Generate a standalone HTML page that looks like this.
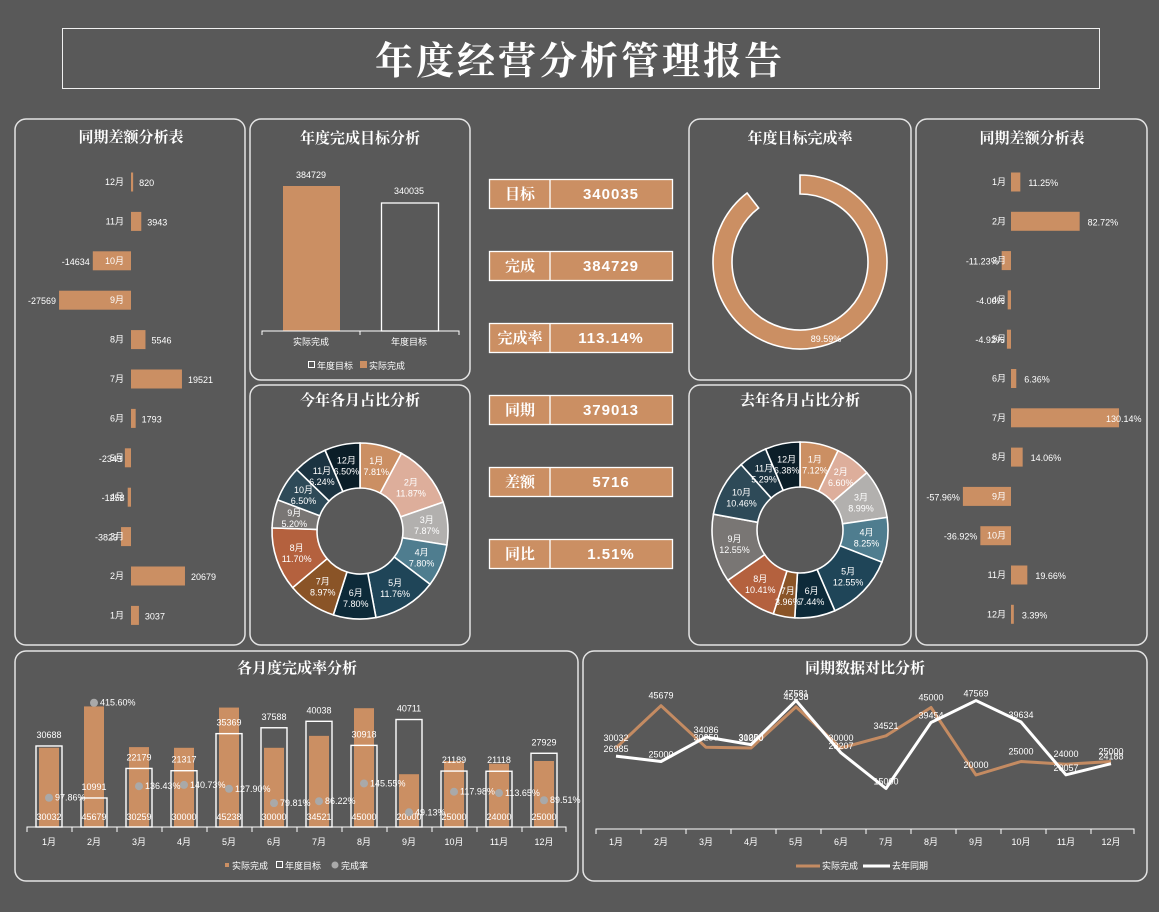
<!DOCTYPE html>
<html><head><meta charset="utf-8">
<style>
html,body{margin:0;padding:0;background:#595959;}
svg{display:block;}
text{font-family:"Liberation Sans","Noto Sans CJK SC",sans-serif;fill:#fff;}
.t{font-family:"Liberation Serif","Noto Serif CJK SC",serif;font-weight:700;}
</style></head>
<body>
<svg id="s" width="1159" height="912" viewBox="0 0 1159 912" xmlns="http://www.w3.org/2000/svg">
<rect width="1159" height="912" fill="#595959"/>
<rect x="62.5" y="28.5" width="1037" height="60" fill="none" stroke="#f0f0f0" stroke-width="1"/>
<text class="t" x="580" y="74" font-size="38" text-anchor="middle" letter-spacing="3">年度经营分析管理报告</text>
<g fill="none" stroke="#e4e4e4" stroke-width="1.5">
<rect x="15" y="119" width="230" height="526" rx="11"/>
<rect x="250" y="119" width="220" height="261" rx="11"/>
<rect x="250" y="385" width="220" height="260" rx="11"/>
<rect x="689" y="119" width="222" height="261" rx="11"/>
<rect x="689" y="385" width="222" height="260" rx="11"/>
<rect x="916" y="119" width="231" height="526" rx="11"/>
<rect x="15" y="651" width="563" height="230" rx="11"/>
<rect x="583" y="651" width="564" height="230" rx="11"/>
</g>
<g class="t" font-size="15" text-anchor="middle">
<text class="t" x="131" y="142">同期差额分析表</text>
<text class="t" x="360" y="143">年度完成目标分析</text>
<text class="t" x="360" y="405">今年各月占比分析</text>
<text class="t" x="800" y="143">年度目标完成率</text>
<text class="t" x="800" y="405">去年各月占比分析</text>
<text class="t" x="1032" y="143">同期差额分析表</text>
<text class="t" x="297" y="673">各月度完成率分析</text>
<text class="t" x="865" y="673">同期数据对比分析</text>
</g>
<g id="dyn"></g>
</svg>
<script>
const NS='http://www.w3.org/2000/svg';
const G=document.getElementById('dyn');
function el(tag,a,txt){const e=document.createElementNS(NS,tag);for(const k in a)e.setAttribute(k,a[k]);if(txt!==undefined)e.textContent=txt;G.appendChild(e);return e;}
const OR='#CB8F63';
// KPI boxes
const kp=[['目标','340035',179],['完成','384729',251],['完成率','113.14%',323],['同期','379013',395],['差额','5716',467],['同比','1.51%',539]];
kp.forEach(k=>{el('rect',{x:489.5,y:k[2]+.5,width:183,height:29,fill:OR,stroke:'#fff','stroke-width':1.3});
el('line',{x1:550,y1:k[2],x2:550,y2:k[2]+30,stroke:'#fff','stroke-width':1.3});
el('text',{x:520,y:k[2]+20,'font-size':15,'text-anchor':'middle',class:'t'},k[0]);
el('text',{x:611,y:k[2]+20,'font-size':15,'font-weight':700,'text-anchor':'middle','letter-spacing':1},k[1]);});
// left bar chart
const L=[[12,820],[11,3943],[10,-14634],[9,-27569],[8,5546],[7,19521],[6,1793],[5,-2343],[4,-1258],[3,-3823],[2,20679],[1,3037]];
L.forEach((d,i)=>{const y=182+i*39.4,w=Math.abs(d[1])*0.00261;const x=d[1]>0?131:131-w;
el('rect',{x:x,y:y-9.5,width:Math.max(w,2),height:19,fill:OR});
el('text',{x:124,y:y+3,'font-size':9,'text-anchor':'end'},d[0]+'月');
if(d[1]>0)el('text',{x:131+w+6,y:y+4,'font-size':9},d[1]);else el('text',{x:131-w-3,y:y+4,'font-size':9,'text-anchor':'end'},d[1]);});
// right bar chart
const R=[11.25,82.72,-11.23,-4.00,-4.92,6.36,130.14,14.06,-57.96,-36.92,19.66,3.39];
R.forEach((v,i)=>{const y=182+i*39.3,w=Math.abs(v)*0.83;const x=v>0?1011:1011-w;
el('rect',{x:x,y:y-9.5,width:Math.max(w,2),height:19,fill:OR});
el('text',{x:1006,y:y+3,'font-size':9,'text-anchor':'end'},(i+1)+'月');
const s=v.toFixed(2)+'%';
if(v>0)el('text',{x:v>100?1106:1011+w+8,y:y+4,'font-size':9},s);else el('text',{x:1011-w-3,y:y+4,'font-size':9,'text-anchor':'end'},s);});
// annual bars
el('rect',{x:283,y:186,width:57,height:145,fill:OR});
el('rect',{x:381.5,y:203,width:57,height:128,fill:'none',stroke:'#fff','stroke-width':1.3});
el('path',{d:'M262 335V331H459V335M360 331V335',stroke:'#fff',fill:'none','stroke-width':1});
el('text',{x:311,y:178,'font-size':9,'text-anchor':'middle'},'384729');
el('text',{x:409,y:194,'font-size':9,'text-anchor':'middle'},'340035');
el('text',{x:311,y:345,'font-size':9,'text-anchor':'middle'},'实际完成');
el('text',{x:409,y:345,'font-size':9,'text-anchor':'middle'},'年度目标');
el('rect',{x:308.5,y:361.5,width:6,height:6,fill:'none',stroke:'#fff'});
el('text',{x:317,y:369,'font-size':9},'年度目标');
el('rect',{x:360,y:361,width:7,height:7,fill:OR});
el('text',{x:369,y:369,'font-size':9},'实际完成');
// donut arcs
function pt(cx,cy,r,a){return [cx+r*Math.sin(a),cy-r*Math.cos(a)];}
function seg(cx,cy,R,r,a0,a1,fill){const la=(a1-a0)>Math.PI?1:0;const p1=pt(cx,cy,R,a0),p2=pt(cx,cy,R,a1),p3=pt(cx,cy,r,a1),p4=pt(cx,cy,r,a0);
el('path',{d:`M${p1}A${R},${R} 0 ${la} 1 ${p2}L${p3}A${r},${r} 0 ${la} 0 ${p4}Z`,fill:fill,stroke:'#fff','stroke-width':1.6});}
seg(800,262,87,68,0,0.8959*2*Math.PI,OR);
el('text',{x:826,y:342,'font-size':9,'text-anchor':'middle'},'89.59%');
const C=['#CB8F63','#DDAE9B','#B2B0AE','#4F7D8F','#1F4558','#0D2A39','#8A5427','#B4613E','#797674','#2E4A58','#1B3341','#0B1E28'];
function pie(cx,cy,vals){let a=0;const tot=vals.reduce((x,y)=>x+y,0);
vals.forEach((v,i)=>{const b=a+v/tot*2*Math.PI;seg(cx,cy,88,43,a,b,C[i]);a=b;});
a=0;vals.forEach((v,i)=>{const b=a+v/tot*2*Math.PI;const m=(a+b)/2;const p=pt(cx,cy,67,m);
el('text',{x:p[0],y:p[1]-2,'font-size':9,'text-anchor':'middle'},(i+1)+'月');
el('text',{x:p[0],y:p[1]+9,'font-size':9,'text-anchor':'middle'},v.toFixed(2)+'%');a=b;});}
pie(360,531,[7.81,11.87,7.87,7.80,11.76,7.80,8.97,11.70,5.20,6.50,6.24,6.50]);
pie(800,530,[7.12,6.60,8.99,8.25,12.55,7.44,3.96,10.41,12.55,10.46,5.29,6.38]);
// combo chart
const A=[30032,45679,30259,30000,45238,30000,34521,45000,20000,25000,24000,25000];
const T=[30688,10991,22179,21317,35369,37588,40038,30918,40711,21189,21118,27929];
const RT=[97.86,415.60,136.43,140.73,127.90,79.81,86.22,145.55,49.13,117.98,113.65,89.51];
A.forEach((v,i)=>{const cx=49+45*i;const h=v*0.00264;el('rect',{x:cx-10,y:827-h,width:20,height:h,fill:OR});});
T.forEach((v,i)=>{const cx=49+45*i;const h=v*0.00264;el('rect',{x:cx-13,y:827-h,width:26,height:h,fill:'none',stroke:'#fff','stroke-width':1.4});
el('text',{x:cx,y:827-h-8,'font-size':9,'text-anchor':'middle'},v);
el('text',{x:cx,y:820,'font-size':9,'text-anchor':'middle'},A[i]);});
RT.forEach((v,i)=>{const cx=49+45*i;const y=827-v*0.299;el('circle',{cx:cx,cy:y,r:4,fill:'#a9a9a9'});
el('text',{x:cx+6,y:y+3,'font-size':9},v.toFixed(2)+'%');});
let d='M27 832V827H566V832';for(let k=1;k<12;k++)d+=`M${27+45*k} 827V832`;
el('path',{d:d,stroke:'#fff',fill:'none','stroke-width':1});
for(let k=0;k<12;k++)el('text',{x:49+45*k,y:845,'font-size':9,'text-anchor':'middle'},(k+1)+'月');
el('rect',{x:225,y:863,width:4,height:4,fill:OR});el('text',{x:232,y:869,'font-size':9},'实际完成');
el('rect',{x:276.5,y:861.5,width:6,height:6,fill:'none',stroke:'#fff'});el('text',{x:285,y:869,'font-size':9},'年度目标');
el('circle',{cx:335,cy:865,r:3.5,fill:'#a9a9a9'});el('text',{x:341,y:869,'font-size':9},'完成率');
// line chart
const W=[26985,25000,34086,31250,47581,28207,15000,39454,47569,39634,20057,24188];
function line(vals,col){el('polyline',{points:vals.map((v,i)=>`${616+45*i},${829-v*0.0027}`).join(' '),fill:'none',stroke:col,'stroke-width':3,'stroke-linejoin':'round'});}
line(A,'#C48B62');line(W,'#fff');
A.forEach((v,i)=>el('text',{x:616+45*i,y:829-v*0.0027-7,'font-size':9,'text-anchor':'middle'},v));
W.forEach((v,i)=>el('text',{x:616+45*i,y:829-v*0.0027-4,'font-size':9,'text-anchor':'middle'},v));
d='M596 834V829H1134V834';for(let k=1;k<12;k++)d+=`M${596+45*k} 829V834`;
el('path',{d:d,stroke:'#fff',fill:'none','stroke-width':1});
for(let k=0;k<12;k++)el('text',{x:616+45*k,y:845,'font-size':9,'text-anchor':'middle'},(k+1)+'月');
el('line',{x1:796,y1:866,x2:820,y2:866,stroke:'#C48B62','stroke-width':3});el('text',{x:822,y:869,'font-size':9},'实际完成');
el('line',{x1:863,y1:866,x2:890,y2:866,stroke:'#fff','stroke-width':3});el('text',{x:892,y:869,'font-size':9},'去年同期');
</script>
</body></html>
